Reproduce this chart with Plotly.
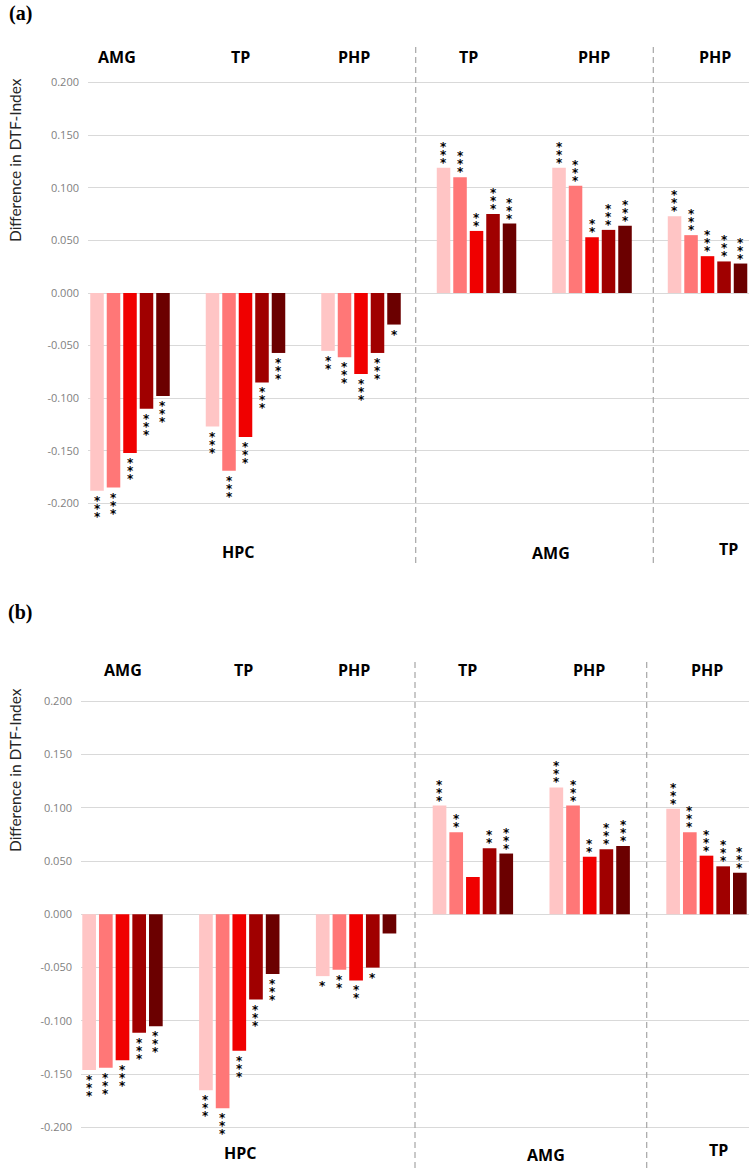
import plotly.graph_objects as go

# ---------------- data ----------------
targets = ["AMG", "TP", "PHP", "TP", "PHP", "PHP"]      # header labels per group
sources = ["HPC", "AMG", "TP"]                          # bottom labels
series_names = ["Series 1", "Series 2", "Series 3", "Series 4", "Series 5"]
colors = ["#FFC5C5", "#FF7777", "#F00000", "#A00000", "#6B0000"]

# panel (a) values, one list per series across the 6 groups
a_s1 = [-0.188, -0.127, -0.055, 0.119, 0.119, 0.073]
a_s2 = [-0.185, -0.169, -0.061, 0.110, 0.102, 0.055]
a_s3 = [-0.152, -0.137, -0.077, 0.059, 0.053, 0.035]
a_s4 = [-0.110, -0.085, -0.057, 0.075, 0.060, 0.030]
a_s5 = [-0.098, -0.057, -0.030, 0.066, 0.064, 0.028]

# panel (b) values
b_s1 = [-0.146, -0.165, -0.058, 0.102, 0.119, 0.099]
b_s2 = [-0.144, -0.182, -0.052, 0.077, 0.102, 0.077]
b_s3 = [-0.137, -0.128, -0.062, 0.035, 0.054, 0.055]
b_s4 = [-0.111, -0.080, -0.050, 0.062, 0.061, 0.045]
b_s5 = [-0.105, -0.056, -0.018, 0.057, 0.064, 0.039]

# number of significance asterisks
a_st1 = [3, 3, 2, 3, 3, 3]
a_st2 = [3, 3, 3, 3, 3, 3]
a_st3 = [3, 3, 3, 2, 2, 3]
a_st4 = [3, 3, 3, 3, 3, 3]
a_st5 = [3, 3, 1, 3, 3, 3]

b_st1 = [3, 3, 1, 3, 3, 3]
b_st2 = [3, 3, 2, 2, 3, 3]
b_st3 = [3, 3, 2, 0, 2, 3]
b_st4 = [3, 3, 1, 2, 3, 3]
b_st5 = [3, 3, 0, 3, 3, 3]

tick_vals = [-0.2, -0.15, -0.1, -0.05, 0.0, 0.05, 0.1, 0.15, 0.2]
tick_text = ["-0.200", "-0.150", "-0.100", "-0.050", "0.000", "0.050", "0.100", "0.150", "0.200"]

# ---------------- layout helpers ----------------
W, H = 749, 1168
def fx(px):
    return px / W
def fy(py):
    return 1 - py / H

BARGAP = 0.286
NSER = 5
SLOT = (1 - BARGAP) / NSER

fig = go.Figure()
xg = list(range(len(targets)))

panels = [
    dict(vals=[a_s1, a_s2, a_s3, a_s4, a_s5], stars=[a_st1, a_st2, a_st3, a_st4, a_st5],
         xa="x", ya="y"),
    dict(vals=[b_s1, b_s2, b_s3, b_s4, b_s5], stars=[b_st1, b_st2, b_st3, b_st4, b_st5],
         xa="x2", ya="y2"),
]

annotations = []
for p in panels:
    for j in range(NSER):
        fig.add_trace(go.Bar(x=xg, y=p["vals"][j], name=series_names[j],
                             marker=dict(color=colors[j], line=dict(width=0)),
                             xaxis=p["xa"], yaxis=p["ya"], showlegend=False,
                             hoverinfo="skip"))
        for i, (v, n) in enumerate(zip(p["vals"][j], p["stars"][j])):
            xc = i + (j - (NSER - 1) / 2) * SLOT
            for k in range(n):
                if v >= 0:
                    ys = 5 + k * 8
                else:
                    ys = -(10 + k * 8)
                annotations.append(dict(x=xc, y=v, xref=p["xa"], yref=p["ya"], text="<b>*</b>",
                                        showarrow=False, yshift=ys, xanchor="center",
                                        yanchor="middle",
                                        font=dict(family="DejaVu Sans", size=12,
                                                  color="#000000")))

# headers and bottom labels
hdr_font = dict(family="Open Sans", size=16, color="#000000")
for px, txt in zip([117, 240, 354, 469, 594, 715], targets):
    annotations.append(dict(x=fx(px), y=fy(57), xref="paper", yref="paper", text="<b>%s</b>" % txt,
                            showarrow=False, xanchor="center", yanchor="middle", font=hdr_font))
for px, txt in zip([123, 243, 354, 467, 589, 707], targets):
    annotations.append(dict(x=fx(px), y=fy(670), xref="paper", yref="paper", text="<b>%s</b>" % txt,
                            showarrow=False, xanchor="center", yanchor="middle", font=hdr_font))
for px, py, txt in zip([238, 551, 728], [552, 553, 549], sources):
    annotations.append(dict(x=fx(px), y=fy(py), xref="paper", yref="paper", text="<b>%s</b>" % txt,
                            showarrow=False, xanchor="center", yanchor="middle", font=hdr_font))
for px, py, txt in zip([240, 546, 718], [1153, 1155, 1150], sources):
    annotations.append(dict(x=fx(px), y=fy(py), xref="paper", yref="paper", text="<b>%s</b>" % txt,
                            showarrow=False, xanchor="center", yanchor="middle", font=hdr_font))

# panel letters
for py, txt in [(14, "(a)"), (612, "(b)")]:
    annotations.append(dict(x=fx(20), y=fy(py), xref="paper", yref="paper", text="<b>%s</b>" % txt,
                            showarrow=False, xanchor="center", yanchor="middle",
                            font=dict(family="Liberation Serif", size=20, color="#000000")))

# y-axis titles
for py in [160, 770]:
    annotations.append(dict(x=fx(15), y=fy(py), xref="paper", yref="paper",
                            text="Difference in DTF-Index", textangle=-90, showarrow=False,
                            xanchor="center", yanchor="middle",
                            font=dict(family="Lato", size=15.5, color="#262626")))

# dashed separators
shapes = []
for px, y0, y1 in [(415.7, 44, 563), (653.3, 44, 563), (415, 658, 1168), (646.7, 658, 1168)]:
    shapes.append(dict(type="line", xref="paper", yref="paper", x0=fx(px), x1=fx(px),
                       y0=fy(y1), y1=fy(y0), line=dict(color="#A6A6A6", width=1.2, dash="6px,4px")))

yax_common = dict(tickvals=tick_vals, ticktext=tick_text, showgrid=True, gridcolor="#D9D9D9",
                  gridwidth=1, zeroline=False, showline=False, ticks="",
                  tickfont=dict(family="Open Sans", size=11, color="#7F7F7F"),
                  ticklabelstandoff=8, fixedrange=True)
xax_common = dict(showticklabels=False, showgrid=False, zeroline=False, showline=False,
                  ticks="", fixedrange=True)

fig.update_layout(
    width=W, height=H, margin=dict(l=0, r=0, t=0, b=0),
    paper_bgcolor="white", plot_bgcolor="white",
    barmode="group", bargap=BARGAP, bargroupgap=0.18,
    xaxis=dict(domain=[fx(88), 1], range=[-0.3636, 5.359], anchor="y", **xax_common),
    yaxis=dict(domain=[fy(565), fy(40)], range=[-(565 - 293) / 1052, (293 - 40) / 1052],
               anchor="x", **yax_common),
    xaxis2=dict(domain=[fx(81), 1], range=[-0.3553, 5.364], anchor="y2", **xax_common),
    yaxis2=dict(domain=[fy(1166), fy(650)], range=[-(1166 - 914.3) / 1066, (914.3 - 650) / 1066],
                anchor="x2", **yax_common),
    annotations=annotations, shapes=shapes,
)

fig.write_html("out.html", config={"displayModeBar": False},
               post_script="document.body.style.margin='0';")
